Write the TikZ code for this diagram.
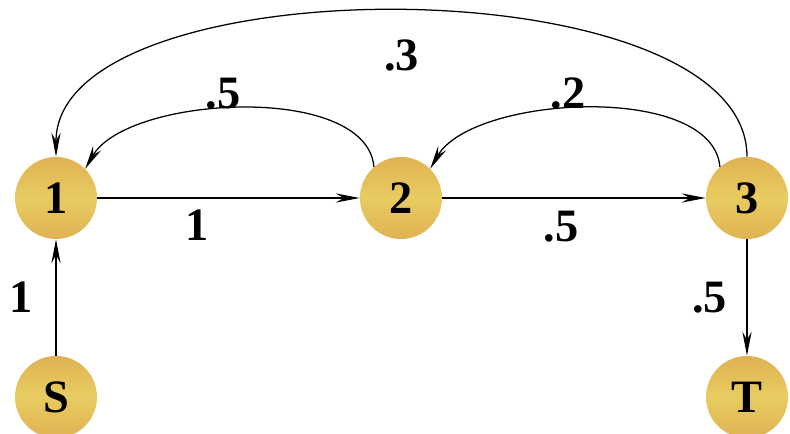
\documentclass[tikz,border=0pt]{standalone}
\usepackage{fontspec}
\setmainfont{Liberation Serif}
\usepackage{xcolor}
\usetikzlibrary{arrows.meta,positioning}
\definecolor{goldedge}{RGB}{223,178,82}
\definecolor{goldmid}{RGB}{232,204,97}

\begin{document}
\begin{tikzpicture}[x=0.025cm,y=0.025cm,font=\fontsize{33}{36}\selectfont\bfseries,
  state/.style={circle,minimum size=2.05cm,inner sep=0pt,top color=goldedge,bottom color=goldedge,middle color=goldmid},
  edge/.style={line width=0.9pt,-{Stealth[length=0.6cm,width=0.23cm,inset=0.2cm]}},
  lbl/.style={inner sep=0pt}]
  \useasboundingbox (0,0) rectangle (790,434);
  \node[state] (n1) at (56,236) {1};
  \node[state] (n2) at (401,236) {2};
  \node[state] (n3) at (747,236) {3};
  \node[state] (S) at (56,37) {S};
  \node[state] (T) at (747,37) {T};

  \draw[edge] (n1) -- (n2) node[lbl,pos=0.38,yshift=-0.68cm] {1};
  \draw[edge] (n2) -- (n3) node[lbl,pos=0.45,yshift=-0.72cm] {.5};
  \draw[edge] (S) -- (n1) node[lbl,midway,xshift=-0.86cm] {1};
  \draw[edge] (n3) -- (T) node[lbl,midway,xshift=-0.93cm] {.5};
  % curved back edges
  \draw[edge] (n2.131) to[out=95,in=60,looseness=0.75] node[lbl,pos=0.55,above] {.5} (n1.45);
  \draw[edge] (n3.131) to[out=95,in=60,looseness=0.75] node[lbl,pos=0.55,above] {.2} (n2.45);
  \draw[edge] (n3.north) to[out=90,in=90,looseness=0.72] node[lbl,pos=0.5,below=0.7cm] {.3} (n1.north);
\end{tikzpicture}
\end{document}
